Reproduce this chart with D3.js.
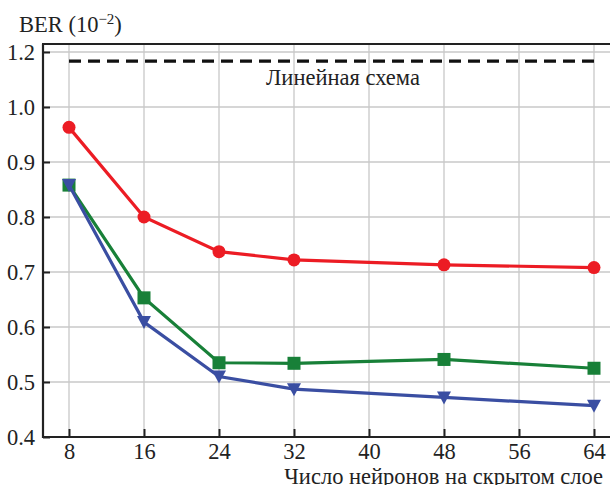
<!DOCTYPE html>
<html><head><meta charset="utf-8">
<script src="https://cdn.jsdelivr.net/npm/d3@7"></script>
<style>body{margin:0;background:#fff}svg{display:block}</style>
</head><body><svg id="c" width="610" height="485"></svg>
<script>
const neurons = [8, 16, 24, 32, 48, 64];
const redSeries = [0.963, 0.800, 0.737, 0.722, 0.713, 0.708];
const greenSeries = [0.858, 0.653, 0.535, 0.534, 0.541, 0.525];
const blueSeries = [0.858, 0.609, 0.510, 0.487, 0.472, 0.457];
const linearScheme = 1.167;
const xTicks = [8, 16, 24, 32, 40, 48, 56, 64];
const yTicks = [0.4, 0.5, 0.6, 0.7, 0.8, 0.9, 1.0, 1.2];

const svg = d3.select("#c");
const L = 43, R = 612, T = 44, B = 437;
const font = "Liberation Serif";
const fs = 22.5;
const x = d3.scaleLinear().domain([8, 64]).range([69, 594]);
// broken y axis: 1.0 → 1.2 squeezed
const y = d3.scaleLinear().domain([0.4, 1.0, 1.2]).range([437, 107, 52]);

// grid
svg.append("g").selectAll("line").data(xTicks).join("line")
  .attr("x1", d => x(d)).attr("x2", d => x(d)).attr("y1", T).attr("y2", B)
  .attr("stroke", "#c8c8c8").attr("stroke-width", 1.3);
svg.append("g").selectAll("line").data(yTicks).join("line")
  .attr("x1", L).attr("x2", R).attr("y1", d => y(d)).attr("y2", d => y(d))
  .attr("stroke", "#c8c8c8").attr("stroke-width", 1.3);

// axes
const xAxis = d3.axisBottom(x).tickValues(xTicks).tickSize(-8).tickPadding(10).tickFormat(d3.format("d"));
const gx = svg.append("g").attr("transform", `translate(0,${B})`).call(xAxis).attr("font-family", font);
gx.select(".domain").remove();
gx.selectAll(".tick line").attr("stroke", "#222").attr("stroke-width", 2);
gx.selectAll(".tick text").attr("font-family", font).attr("font-size", fs).attr("fill", "#222").attr("y", 22).attr("dy", 0);

const yAxis = d3.axisLeft(y).tickValues(yTicks).tickSize(-7).tickPadding(8).tickFormat(d3.format(".1f"));
const gy = svg.append("g").attr("transform", `translate(${L},0)`).call(yAxis).attr("font-family", font);
gy.select(".domain").remove();
gy.selectAll(".tick line").attr("stroke", "#222").attr("stroke-width", 2);
gy.selectAll(".tick text").attr("font-family", font).attr("font-size", fs).attr("fill", "#222").attr("dy", "0.32em");

// spines
svg.append("line").attr("x1", L).attr("x2", L).attr("y1", T).attr("y2", B + 1).attr("stroke", "#222").attr("stroke-width", 2.2);
svg.append("line").attr("x1", L - 1).attr("x2", R).attr("y1", B).attr("y2", B).attr("stroke", "#222").attr("stroke-width", 2.2);
svg.append("line").attr("x1", L - 1).attr("x2", R).attr("y1", T).attr("y2", T).attr("stroke", "#222").attr("stroke-width", 2.2);

// dashed linear scheme
svg.append("line").attr("x1", x(8)).attr("x2", x(64)).attr("y1", y(linearScheme)).attr("y2", y(linearScheme))
  .attr("stroke", "#111").attr("stroke-width", 3.2).attr("stroke-dasharray", "12,7");
svg.append("text").attr("x", 343).attr("y", 85).attr("text-anchor", "middle")
  .attr("font-family", font).attr("font-size", fs).attr("fill", "#222").text("Линейная схема");

const line = d3.line().x((d, i) => x(neurons[i])).y(d => y(d));
function series(data, color, shape) {
  const g = svg.append("g");
  g.append("path").attr("d", line(data)).attr("fill", "none").attr("stroke", color).attr("stroke-width", 3.2);
  data.forEach((v, i) => {
    const cx = x(neurons[i]), cy = y(v);
    if (shape === "circle") g.append("circle").attr("cx", cx).attr("cy", cy).attr("r", 6.5).attr("fill", color);
    else if (shape === "square") g.append("rect").attr("x", cx - 6.5).attr("y", cy - 6.5).attr("width", 13).attr("height", 13).attr("fill", color);
    else g.append("path").attr("d", `M${cx - 7},${cy - 6}L${cx + 7},${cy - 6}L${cx},${cy + 7}Z`).attr("fill", color);
  });
}
series(redSeries, "#ec1c24", "circle");
series(greenSeries, "#188038", "square");
series(blueSeries, "#3a4ea2", "tri");

// labels
const ber = svg.append("text").attr("x", 19).attr("y", 32).attr("font-family", font).attr("font-size", fs).attr("fill", "#222");
ber.append("tspan").text("BER (10");
ber.append("tspan").attr("dy", -8).attr("font-size", 15).text("−2");
ber.append("tspan").attr("dy", 8).text(")");
svg.append("text").attr("x", 603).attr("y", 484).attr("text-anchor", "end")
  .attr("font-family", font).attr("font-size", fs).attr("fill", "#222").text("Число нейронов на скрытом слое");
</script></body></html>
